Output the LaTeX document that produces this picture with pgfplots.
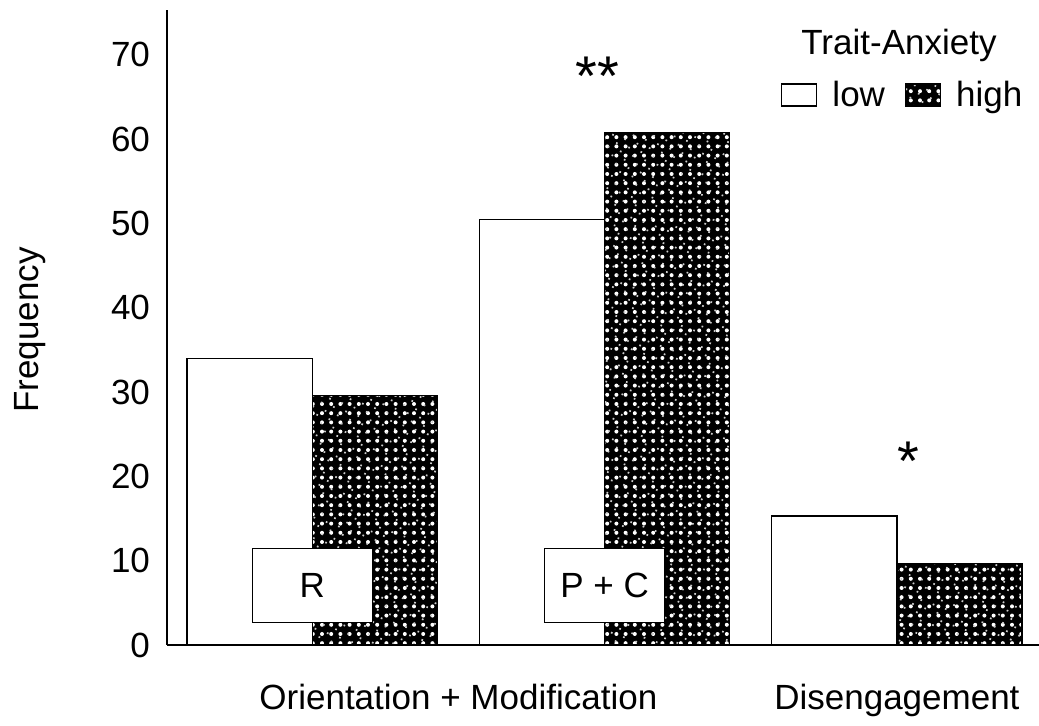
\documentclass[border=0pt]{standalone}
\usepackage{fontspec}
\setmainfont{Liberation Sans}
\usepackage{pgfplots}
\usepackage{pgfplotstable}
\pgfplotsset{compat=1.18}
\usetikzlibrary{patterns.meta}

\pgfplotstableread{
x low high
1 34.0 29.6
2 50.5 60.8
3 15.3 9.7
}\datatable

\newcommand{\fsz}{\fontsize{17.5}{20}\selectfont}
\tikzset{hipat/.style={fill=black,
  postaction={pattern={Dots[distance=4.6pt,radius=1.0pt]}, pattern color=white},
  postaction={pattern={Dots[distance=4.6pt,radius=0.6pt,angle=25,xshift=2.1pt,yshift=1.4pt]}, pattern color=white!80!black}}}

\begin{document}
\begin{tikzpicture}
\begin{axis}[
  scale only axis, width=436pt, height=317.5pt,
  xmin=0.5034, xmax=3.486, ymin=0, ymax=75.3,
  axis x line*=bottom, axis y line*=left,
  axis line style={line width=0.7pt, -},
  ytick={0,10,...,70},
  xtick={1.5,3},
  xticklabels={Orientation + Modification, Disengagement},
  major tick length=0pt,
  /pgf/number format/assume math mode=true,
  tick label style={font=\fsz},
  yticklabel style={xshift=-5pt},
  xticklabel style={yshift=-16pt},
  ylabel={Frequency},
  ylabel style={font=\fsz, at={(axis description cs:-0.157,0.496)}, anchor=center},
  clip=false,
  legend columns=2,
  legend style={draw=none, fill=none, font=\fsz, at={(axis description cs:0.704,0.866)}, anchor=west,
    inner sep=0pt, nodes={inner xsep=4pt},
    /tikz/column 2/.style={column sep=6pt}},
  legend image code/.code={\draw[#1, line width=0.6pt] (0pt,-5.5pt) rectangle (17.5pt,5.5pt);},
]
\coordinate (O) at (rel axis cs:0,0);
\addplot[ybar, bar width=0.428, bar shift=-0.214, draw=black, line width=0.6pt, fill=white]
  table[x=x, y=low] {\datatable};
\addlegendentry{\hspace*{3.5pt}low}
\addplot[ybar, bar width=0.428, bar shift=0.214, draw=black, line width=0.6pt, hipat]
  table[x=x, y=high] {\datatable};
\addlegendentry{\hspace*{3.5pt}high}

\node[draw, fill=white, line width=0.6pt, minimum width=60pt, minimum height=37pt, font=\fsz]
  at (axis cs:1,7.1) {R};
\node[draw, fill=white, line width=0.6pt, minimum width=60pt, minimum height=37pt, font=\fsz]
  at (axis cs:2,7.1) {P + C};
\node[font=\fontsize{28}{30}\selectfont, anchor=base, inner sep=0pt] at (axis cs:1.976,65.2) {**};
\node[font=\fontsize{28}{30}\selectfont, anchor=base, inner sep=0pt] at (axis cs:3.04,19.45) {*};
\node[font=\fsz, anchor=base, inner sep=0pt] at (axis cs:3.007,70.0) {Trait-Anxiety};
\end{axis}
\pgfresetboundingbox
\path ([shift={(-83.5pt,-40.5pt)}]O) rectangle ++(519.5pt,363pt);
\end{tikzpicture}
\end{document}
